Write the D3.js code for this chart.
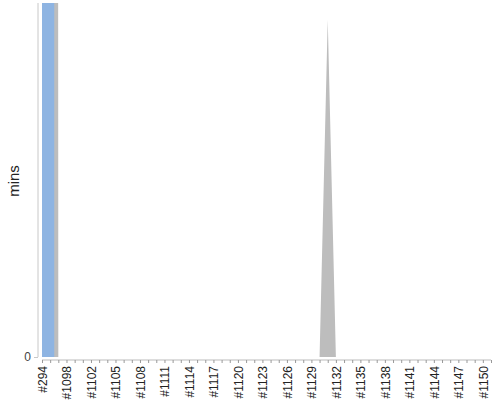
<!DOCTYPE html>
<html>
<head>
<meta charset="utf-8">
<script src="https://cdn.jsdelivr.net/npm/d3@7"></script>
<style>
  body { margin: 0; background: #fff; }
  text { font-family: "Liberation Sans", Arial, sans-serif; }
</style>
</head>
<body>
<div class="chart"></div>
<script>
// data
const builds = ["#294", "#1095", "#1097", "#1098", "#1099", "#1101",
    "#1102", "#1103", "#1104", "#1105", "#1106", "#1107", "#1108", "#1109", "#1110",
    "#1111", "#1112", "#1113", "#1114", "#1115", "#1116", "#1117", "#1118", "#1119",
    "#1120", "#1121", "#1122", "#1123", "#1124", "#1125", "#1126", "#1127", "#1128",
    "#1129", "#1130", "#1131", "#1132", "#1133", "#1134", "#1135", "#1136", "#1137",
    "#1138", "#1139", "#1140", "#1141", "#1142", "#1143", "#1144", "#1145", "#1146",
    "#1147", "#1148", "#1149", "#1150", "#1151"];

// minutes per build, gray series (goes far off the top at the start)
const gray_mins = [50, 50, 0, 0, 0, 0, 0, 0, 0, 0, 0, 0, 0, 0, 0, 0, 0, 0, 0, 0,
    0, 0, 0, 0, 0, 0, 0, 0, 0, 0, 0, 0, 0, 0, 0, 1, 0, 0, 0, 0,
    0, 0, 0, 0, 0, 0, 0, 0, 0, 0, 0, 0, 0, 0, 0, 0];

// minutes per build, blue series
const blue_mins = [50, 50, 0, 0, 0, 0, 0, 0, 0, 0, 0, 0, 0, 0, 0, 0, 0, 0, 0, 0,
    0, 0, 0, 0, 0, 0, 0, 0, 0, 0, 0, 0, 0, 0, 0, 0, 0, 0, 0, 0,
    0, 0, 0, 0, 0, 0, 0, 0, 0, 0, 0, 0, 0, 0, 0, 0];

const y_ticks = [0];
const y_max = 1.05;

const margin = { top: 3, bottom: 43, left: 42, right: 9 };
const width = 500 - margin.left - margin.right;
const height = 400 - margin.top - margin.bottom;

const svg = d3.select(".chart")
    .append("svg")
    .attr("width", 500)
    .attr("height", 400)
    .append("g")
    .attr("transform", `translate(${margin.left},${margin.top})`);

const x_scale = d3.scalePoint()
    .domain(builds)
    .range([0, width]);

const y_scale = d3.scaleLinear()
    .domain([0, y_max])
    .range([height, 0]);

// keep the runaway values inside the plot
svg.append("clipPath")
    .attr("id", "plot_clip")
    .append("rect")
    .attr("x", -4)
    .attr("y", 0)
    .attr("width", width + 8)
    .attr("height", height);

const plot = svg.append("g").attr("clip-path", "url(#plot_clip)");

const gray_area = d3.area()
    .x(function(d, i) { return x_scale(builds[i]); })
    .y0(y_scale(0))
    .y1(function(d) { return y_scale(d); });

const blue_area = d3.area()
    .curve(d3.curveStep)
    .x(function(d, i) { return x_scale(builds[i]); })
    .y0(y_scale(0))
    .y1(function(d) { return y_scale(d); });

plot.append("path")
    .datum(gray_mins)
    .attr("d", gray_area)
    .attr("fill", "#bdbdbd");

plot.append("path")
    .datum(blue_mins)
    .attr("d", blue_area)
    .attr("fill", "#8eb4e2");

// y axis
const y_axis = svg.append("g")
    .attr("transform", "translate(-4,0)")
    .call(d3.axisLeft(y_scale)
        .tickValues(y_ticks)
        .tickFormat(d3.format("d"))
        .tickSize(4)
        .tickPadding(3));

y_axis.select(".domain").attr("stroke", "#c8c8c8").attr("d", `M0,0V${height}`);
y_axis.selectAll(".tick line").attr("stroke", "#c8c8c8");
y_axis.selectAll(".tick text")
    .attr("fill", "#444")
    .style("font-size", "12px");

// x axis
const x_axis = svg.append("g")
    .attr("transform", `translate(0,${height + 3})`)
    .call(d3.axisBottom(x_scale)
        .tickSize(3)
        .tickFormat(function(d, i) { return i % 3 === 0 ? d : ""; }));

x_axis.select(".domain").attr("stroke", "#bbb").attr("d", `M0,0H${width}`);
x_axis.selectAll(".tick line").attr("stroke", "#999");
x_axis.selectAll(".tick text")
    .attr("fill", "#222")
    .style("font-size", "12px")
    .attr("text-anchor", "end")
    .attr("dx", "-6")
    .attr("dy", "0.35em")
    .attr("y", 0)
    .attr("transform", "rotate(-90)");

// axis title
svg.append("text")
    .attr("transform", `translate(${14 - margin.left},${181 - margin.top}) rotate(-90)`)
    .attr("text-anchor", "middle")
    .attr("dy", "0.35em")
    .attr("fill", "#222")
    .style("font-size", "15px")
    .text("mins");
</script>
</body>
</html>
